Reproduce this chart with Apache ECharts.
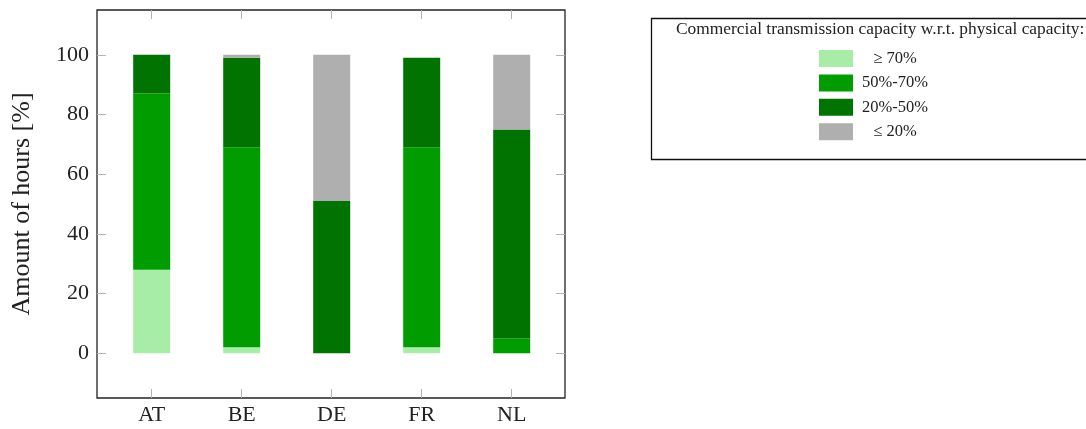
<!DOCTYPE html>
<html>
<head>
<meta charset="utf-8">
<script src="https://cdn.jsdelivr.net/npm/echarts@6/dist/echarts.min.js"></script>
<style>
  html, body { margin: 0; padding: 0; background: #fff; }
  #chart { width: 1086px; height: 429px; }
</style>
</head>
<body>
<div id="chart"></div>
<script>
// Countries on the x axis
const countries = ['AT', 'BE', 'DE', 'FR', 'NL'];
// Share of hours [%] per capacity band, stacked bottom to top
const above70 = [28, 2, 0, 2, 0];
const from50to70 = [59, 67, 0, 67, 5];
const from20to50 = [13, 30, 51, 30, 70];
const below20 = [0, 1, 49, 0, 25];
// Legend entries
const bandNames = ['\u2265 70%', '50%-70%', '20%-50%', '\u2264 20%'];
const yTicks = [0, 20, 40, 60, 80, 100];

const FONT = '"Liberation Serif", "DejaVu Serif", serif';
const TEXT = '#222';
const colors = ['#a7eda7', '#009c00', '#007300', '#afafaf'];
const seriesValues = [above70, from50to70, from20to50, below20];

const chart = echarts.init(document.getElementById('chart'), null, { renderer: 'canvas' });

const tickStyle = { show: true, inside: true, length: 9, lineStyle: { color: '#b4b4b4', width: 1 } };
const hiddenLine = { show: false, onZero: false };
const yRange = { min: -15, max: 115 };

const option = {
  animation: false,
  backgroundColor: '#fff',
  title: {
    text: 'Commercial transmission capacity w.r.t. physical capacity:',
    left: 676,
    top: 21,
    padding: 0,
    textStyle: { fontFamily: FONT, fontSize: 17.4, fontWeight: 'normal', color: TEXT }
  },
  graphic: [{
    type: 'rect',
    left: 649,
    top: 16,
    shape: { width: 460, height: 141 },
    style: { fill: 'none', stroke: '#111', lineWidth: 1.3 },
    silent: true
  }],
  legend: {
    orient: 'vertical',
    left: 819,
    top: 50,
    padding: 0,
    itemWidth: 34,
    itemHeight: 17,
    itemGap: 7.4,
    icon: 'rect',
    data: bandNames,
    formatter: name => '{t|' + name + '}',
    textStyle: {
      fontFamily: FONT, fontSize: 16.5, color: TEXT,
      rich: { t: { width: 74, align: 'center', fontFamily: FONT, fontSize: 16.5, color: TEXT } }
    }
  },
  grid: [
    // framed plot area carrying the y scale
    { left: 97, right: 521, top: 10, bottom: 31, show: true, borderColor: '#222', borderWidth: 1.3, backgroundColor: 'transparent' },
    // category band area for the bars
    { left: 106.7, right: 529.3, top: 10, bottom: 31 }
  ],
  xAxis: [
    { gridIndex: 0, type: 'value', min: 0, max: 1, show: false },
    {
      gridIndex: 1, type: 'category', data: countries, position: 'bottom',
      axisLine: hiddenLine,
      axisTick: Object.assign({ alignWithLabel: true }, tickStyle),
      axisLabel: { fontFamily: FONT, fontSize: 22, color: TEXT, margin: 6 }
    },
    {
      gridIndex: 1, type: 'category', data: countries, position: 'top',
      axisLine: hiddenLine,
      axisTick: Object.assign({ alignWithLabel: true }, tickStyle),
      axisLabel: { show: false }
    }
  ],
  yAxis: [
    Object.assign({
      gridIndex: 0, type: 'value',
      name: 'Amount of hours [%]',
      nameLocation: 'middle',
      nameGap: 62,
      nameTextStyle: { fontFamily: FONT, fontSize: 26, color: TEXT },
      axisLine: hiddenLine,
      splitLine: { show: false },
      axisTick: Object.assign({ customValues: yTicks }, tickStyle),
      axisLabel: { customValues: yTicks, fontFamily: FONT, fontSize: 22, color: TEXT, margin: 8 }
    }, yRange),
    Object.assign({
      gridIndex: 0, type: 'value', position: 'right',
      axisLine: hiddenLine,
      splitLine: { show: false },
      axisTick: Object.assign({ customValues: yTicks }, tickStyle),
      axisLabel: { show: false }
    }, yRange),
    Object.assign({ gridIndex: 1, type: 'value', show: false }, yRange)
  ],
  series: bandNames.map((name, i) => ({
    name: name,
    type: 'bar',
    stack: 'hours',
    barWidth: 37,
    xAxisIndex: 1,
    yAxisIndex: 2,
    itemStyle: { color: colors[i] },
    data: seriesValues[i]
  }))
};

chart.setOption(option);
</script>
</body>
</html>
